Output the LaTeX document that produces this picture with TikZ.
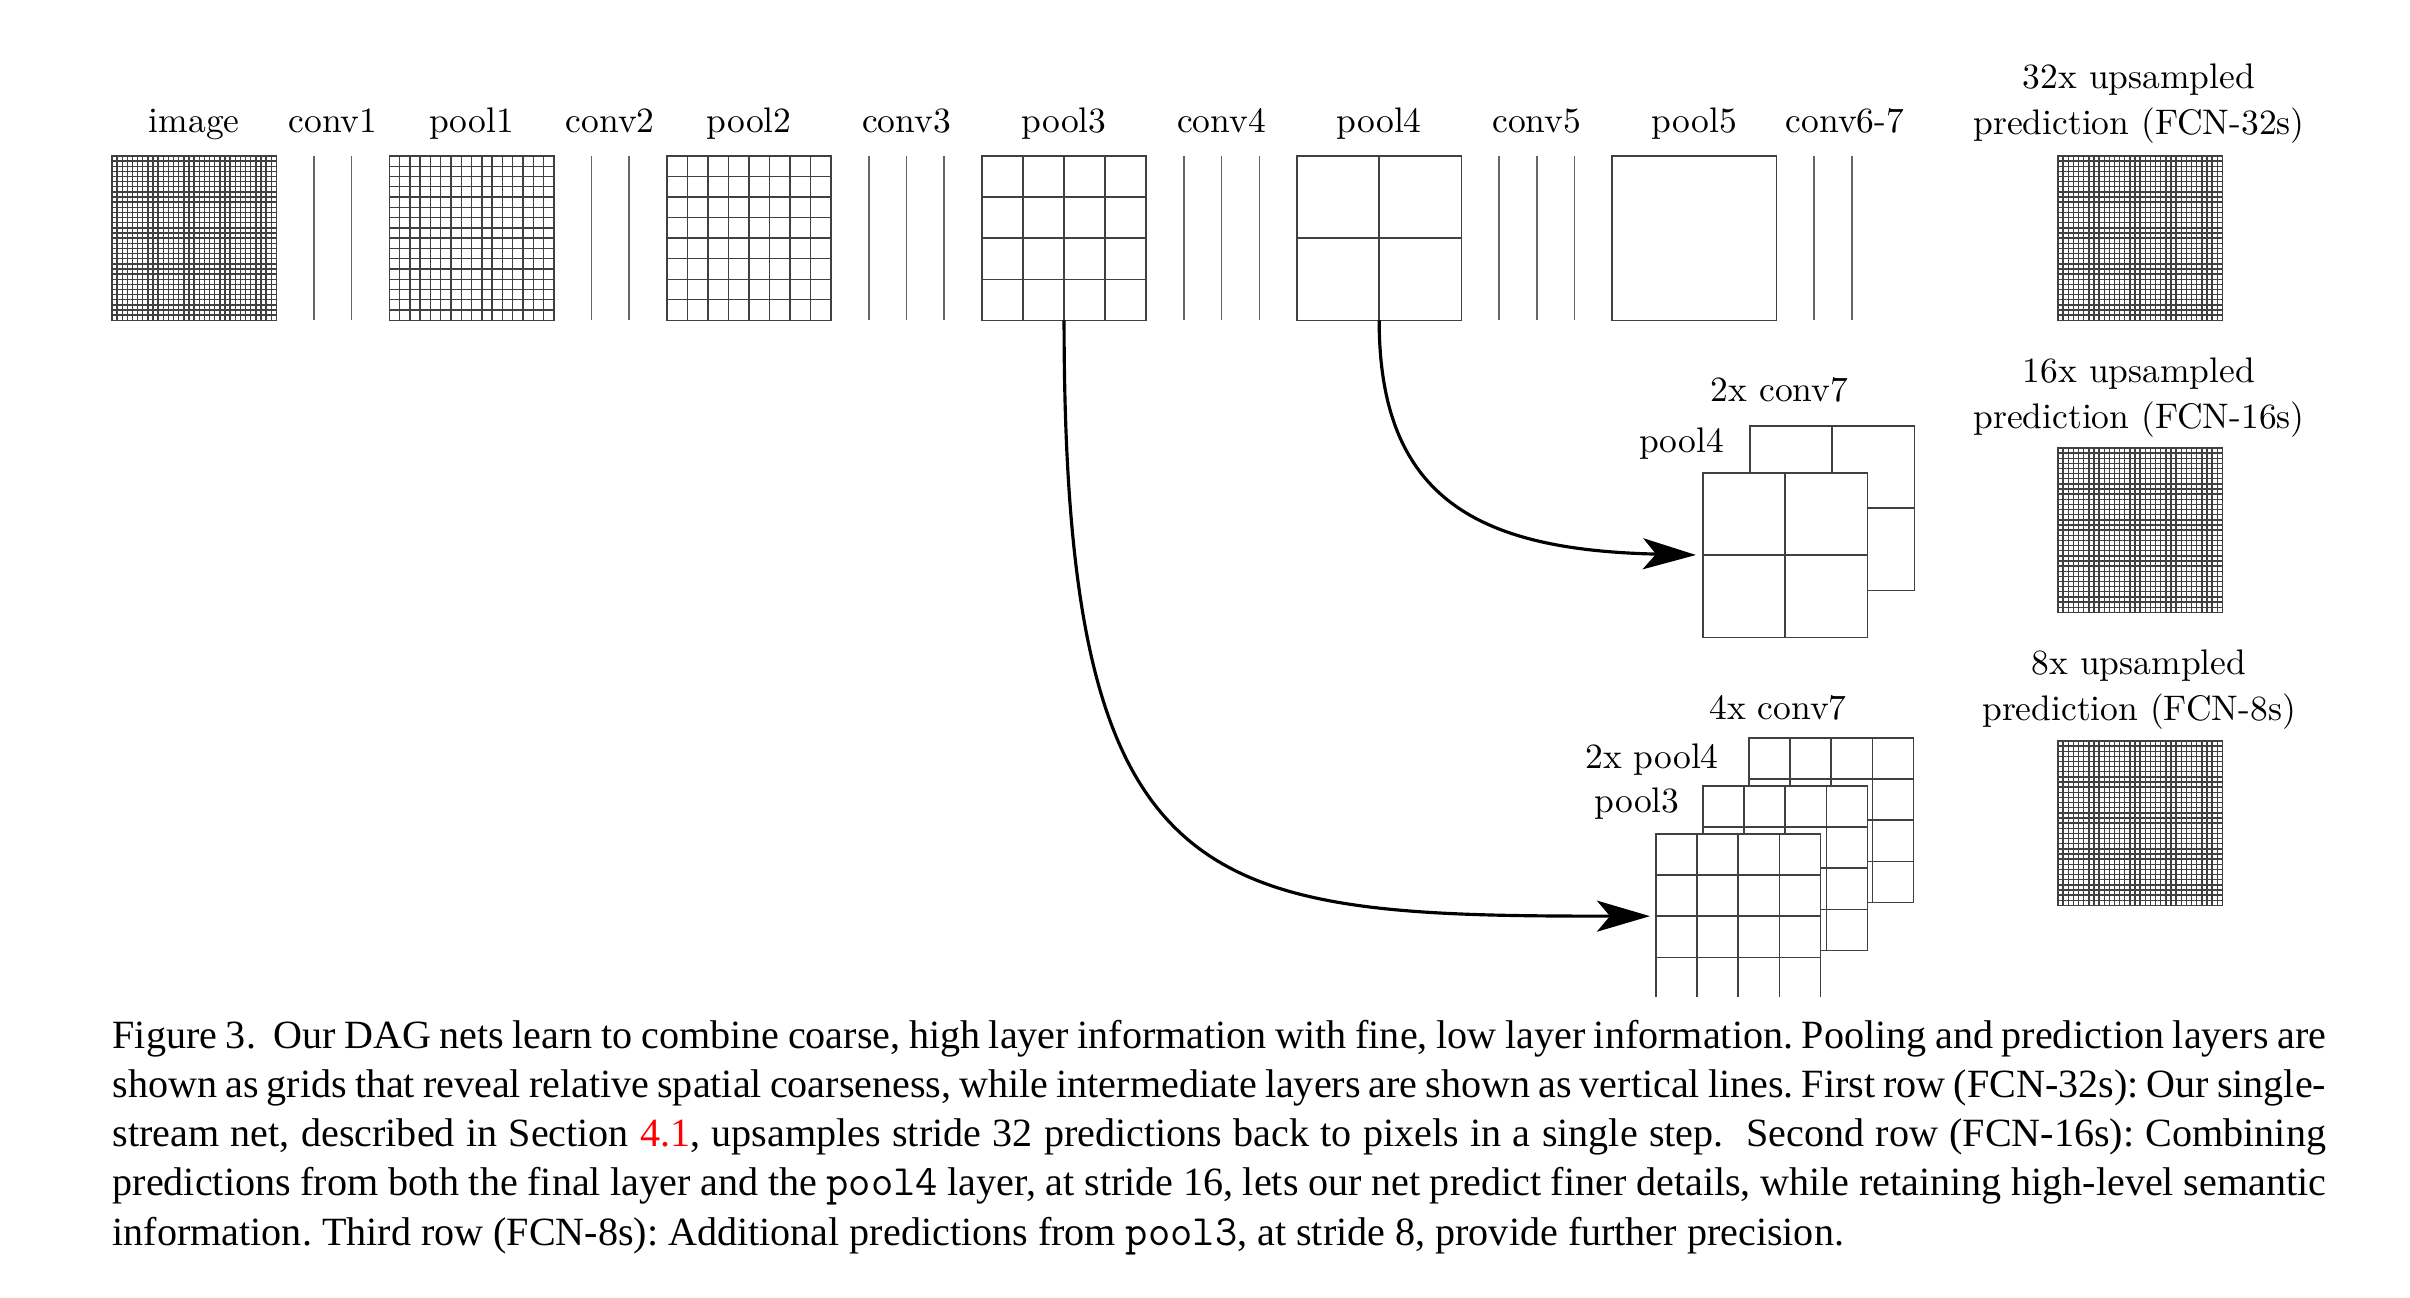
\documentclass[tikz,border=0pt]{standalone}
\usepackage{fontspec}
\newfontfamily\capfont{Liberation Serif}
\newcommand{\capmono}{\ttfamily\fontsize{12.3}{14}\selectfont}
\usetikzlibrary{calc,arrows.meta}
\newcommand{\fcngrid}[4]{% name, left, top, n
  \node[gbox] (#1) at ({#2+82.15},{#3+82.15}) {};
  \ifnum#4>1
    \pgfmathtruncatemacro{\nlast}{#4-1}
    \foreach \k in {1,...,\nlast}{
      \draw[gline] ($(#1.north west)!{\k/#4}!(#1.north east)$) -- ($(#1.south west)!{\k/#4}!(#1.south east)$);
      \draw[gline] ($(#1.north west)!{\k/#4}!(#1.south west)$) -- ($(#1.north east)!{\k/#4}!(#1.south east)$);
    }
  \fi
}
\begin{document}
\begin{tikzpicture}[x=0.01cm,y=-0.01cm,
  gbox/.style={draw=black!75,fill=white,line width=0.45pt,inner sep=0pt,outer sep=0pt,minimum width=1.643cm,minimum height=1.643cm},
  gline/.style={draw=black!75,line width=0.4pt},
  cline/.style={draw=black!60,line width=0.45pt},
  lab/.style={font=\fontsize{10.1}{13}\selectfont,inner sep=0pt,anchor=base},
  mlab/.style={font=\fontsize{10.1}{13}\selectfont,inner sep=0pt,anchor=north,align=center},
  arr/.style={line width=0.9pt,-{Stealth[length=0.53cm,width=0.31cm,inset=0.13cm]}},
  captxt/.style={font=\capfont\fontsize{11.4}{14}\selectfont\frenchspacing,inner sep=0pt,anchor=base west}]
\useasboundingbox (0,0) rectangle (2410,1298);
% top row
\fcngrid{img}{112}{156}{32}
\fcngrid{pool1}{389.4}{156}{16}
\fcngrid{pool2}{666.8}{156}{8}
\fcngrid{pool3}{981.9}{156}{4}
\fcngrid{pool4}{1297.0}{156}{2}
\fcngrid{pool5}{1612.1}{156}{1}
\fcngrid{pred32}{2058}{156}{32}
\foreach \x in {314.0,351.7,591.4,629.1,868.8,906.5,944.2,1183.9,1221.6,1259.3,1499.0,1536.7,1574.4,1814.1,1851.8}
  \draw[cline] (\x,156) -- (\x,320.3);
\node[lab] (limg) at (194.2,133) {image};
\node[lab] (lc1) at (332.9,133) {conv1};
\node[lab] (lp1) at (471.6,133) {pool1};
\node[lab] (lc2) at (610.3,133) {conv2};
\node[lab] (lp2) at (749,133) {pool2};
\node[lab] (lc3) at (906.5,133) {conv3};
\node[lab] (lp3) at (1064,133) {pool3};
\node[lab] (lc4) at (1221.6,133) {conv4};
\node[lab] (lp4) at (1379.2,133) {pool4};
\node[lab] (lc5) at (1536.7,133) {conv5};
\node[lab] (lp5) at (1694.3,133) {pool5};
\node[lab] (lc67) at (1845,133) {conv6-7};
\node[mlab] (l32) at (2139,63.3) {32x upsampled\\prediction (FCN-32s)};
% second row
\fcngrid{c7b}{1750}{426}{2}
\fcngrid{p4f}{1703}{473}{2}
\node[lab] (l2c7) at (1779.5,402) {2x conv7};
\node[lab] (l2p4) at (1681.5,452.5) {pool4};
\fcngrid{pred16}{2058}{448}{32}
\node[mlab] (l16) at (2139,357) {16x upsampled\\prediction (FCN-16s)};
% third row
\fcngrid{c7c}{1749}{738}{4}
\fcngrid{p4m}{1703}{786}{4}
\begin{scope}
\clip (0,0) rectangle (2410,996);
\fcngrid{p3f}{1656}{834}{4}
\end{scope}
\node[lab] (l4c7) at (1778,720) {4x conv7};
\node[lab] (l3p4) at (1652,768.5) {2x pool4};
\node[lab] (l3p3) at (1637,812) {pool3};
\fcngrid{pred8}{2058}{741}{32}
\node[mlab] (l8) at (2139,649) {8x upsampled\\prediction (FCN-8s)};
% arrows
\draw[arr,shorten >=0.07cm] (pool4.south) .. controls +(0,180) and +(-223,-5) .. (p4f.west);
\draw[arr,shorten >=0.06cm] (pool3.south) .. controls +(0,580) and +(-456,0) .. (p3f.west);
% caption
\node[captxt] (cap1) at (112,1048) {\makebox[22.12cm][s]{Figure 3.\ \ Our DAG nets learn to combine coarse, high layer information with fine, low layer information. Pooling and prediction layers are}};
\node[captxt] (cap2) at (112,1097) {\makebox[22.12cm][s]{shown as grids that reveal relative spatial coarseness, while intermediate layers are shown as vertical lines. First row (FCN-32s): Our single-}};
\node[captxt] (cap3) at (112,1146) {\makebox[22.12cm][s]{stream net, described in Section \textcolor{red}{4.1}, upsamples stride 32 predictions back to pixels in a single step.\ \ Second row (FCN-16s): Combining}};
\node[captxt] (cap4) at (112,1195) {\makebox[22.12cm][s]{predictions from both the final layer and the {\capmono pool4} layer, at stride 16, lets our net predict finer details, while retaining high-level semantic}};
\node[captxt] (cap5) at (112,1245) {information. Third row (FCN-8s): Additional predictions from {\capmono pool3}, at stride 8, provide further precision.};
\end{tikzpicture}
\end{document}
